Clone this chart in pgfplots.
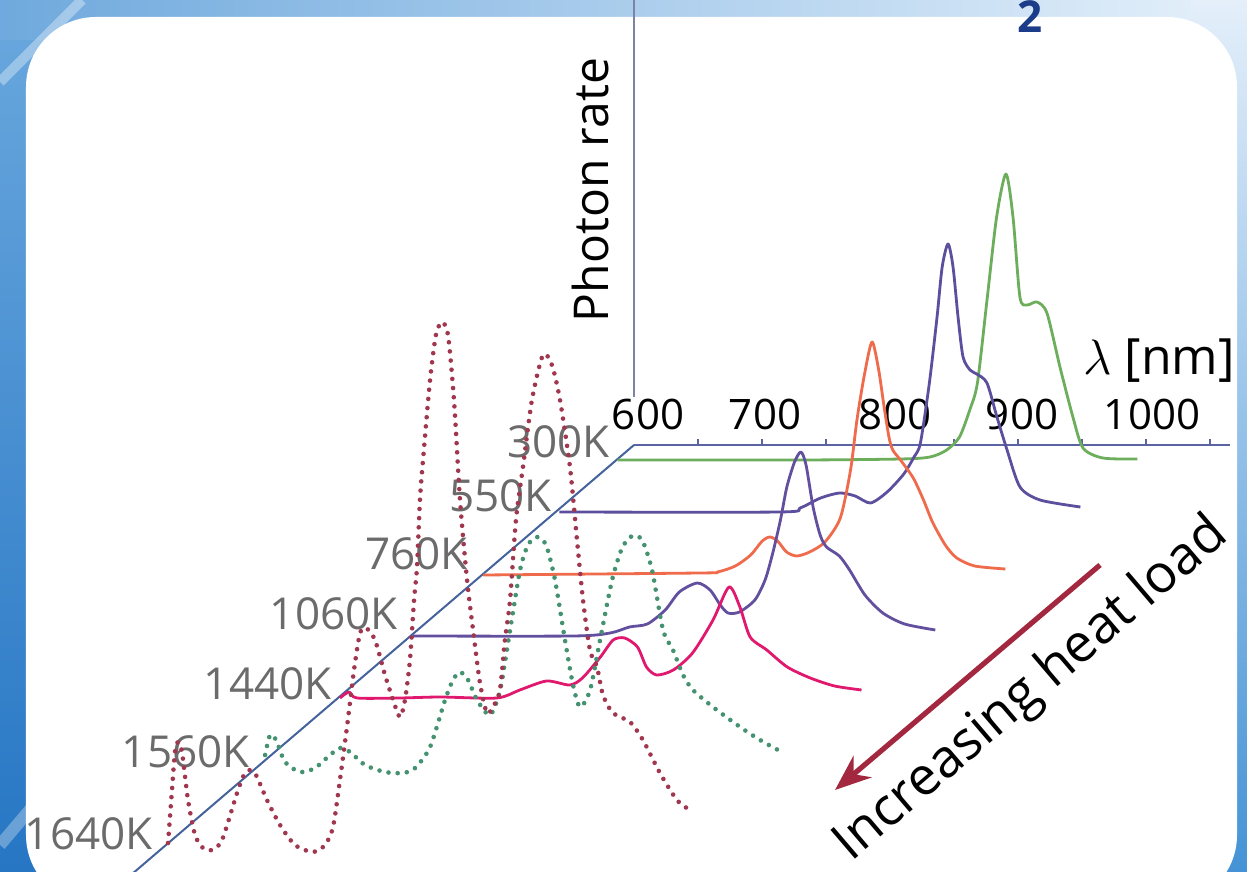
\documentclass[border=0pt]{standalone}
\usepackage{pgfplots}
\pgfplotsset{compat=1.18}
\usepackage{fontspec}
\setmainfont{Open Sans}
\usetikzlibrary{arrows.meta,backgrounds}

\definecolor{axisblue}{HTML}{5A64A2}
\definecolor{axisgray}{HTML}{7C84A6}
\definecolor{diagblue}{HTML}{44629C}
\definecolor{kgreen}{HTML}{6CAE5C}
\definecolor{kviolet}{HTML}{5B4F9E}
\definecolor{korange}{HTML}{EF6B4C}
\definecolor{kpurple}{HTML}{62509F}
\definecolor{kmagenta}{HTML}{E0186E}
\definecolor{kdotgreen}{HTML}{449270}
\definecolor{kdotred}{HTML}{A0374F}
\definecolor{labelgray}{HTML}{6B6B6B}
\definecolor{arrowred}{HTML}{A3283F}
\definecolor{titlenavy}{HTML}{1B3C88}

\newcommand\tickfont{\fontsize{21}{21}\selectfont}
\newcommand\tempfont{\fontsize{22}{22}\selectfont}

\begin{document}
\begin{tikzpicture}
% wavelength along x, sample depth (temperature order) along y, photon rate along z
\begin{axis}[
  x={(0.64pt,0pt)}, y={(-0.585pt,-0.5pt)}, z={(0pt,0.5pt)},
  hide axis, clip=false,
  xmin=600, xmax=1070, ymin=0, ymax=440, zmin=0, zmax=450,
  every axis plot/.append style={no marks, line join=round},
  solid spec/.style={line width=1.4pt, smooth, tension=0.45},
  dot spec/.style={line width=2.3pt, smooth, tension=0.45, line cap=round, dash pattern=on 0pt off 4.6pt},
]
\coordinate (O) at (axis cs:600,0,0);

% axes
\addplot3[axisgray, line width=1pt] coordinates {(600,0,48) (600,0,460)};
\addplot3[axisblue, line width=1pt] coordinates {(600,0,0) (1066,0,0)};
\addplot3[diagblue, line width=1pt] coordinates {(600,0,0) (600,445,0)};
\pgfplotsinvokeforeach{650,700,750,800,850,900,950,1000,1050}{
  \draw[axisblue, line width=1pt] (axis cs:#1,0,0) -- ++(0pt,3pt);
}

% 300 K
\addplot3[kgreen, solid spec] coordinates {
 (601,15,0) (745,15,0) (822,15,1) (845,15,3) (858,15,10) (868,15,23) (876,15,50)
 (882,15,77) (889.5,15,160) (897,15,243) (904.3,15,286) (909.8,15,243) (915.2,15,163)
 (920.7,15,155) (928.5,15,158) (936.3,15,147) (946.5,15,93) (956.6,15,43)
 (964.5,15,12) (980,15,2) (1007,15,1)};

% 550 K
\addplot3[kviolet, solid spec] coordinates {
 (603,67,0) (775,67,0) (791,67,4) (807,67,14) (822,67,19) (834,67,16) (846,67,9)
 (859,67,20) (872,67,38) (880,67,55) (885,67,69) (892,67,129) (898,67,195)
 (902,67,245) (906.6,67,268) (910.5,67,245) (914.4,67,195) (918.3,67,155)
 (923.8,67,142) (929,67,138) (937,67,129) (944.8,67,95) (952.7,67,62)
 (962.8,67,25) (978.5,67,12) (1010,67,5)};

% 760 K
\addplot3[korange, solid spec] coordinates {
 (601,130,0) (770,130,2) (784,130,3) (798,130,9) (810,130,20) (819,130,34)
 (825,130,38) (831,130,34) (838,130,23) (846,130,19) (856,130,23) (868,130,33)
 (880,130,57) (888,130,105) (893,130,155) (898.8,130,200) (904.8,130,233)
 (910,130,205) (914,130,170) (918,130,138) (921,130,125) (927,130,115)
 (937,130,97) (945,130,75) (952,130,53) (962,130,30) (971,130,17) (985,130,9)
 (1009,130,6)};

% 1060 K
\addplot3[kpurple, solid spec] coordinates {
 (602,191,0) (727,191,0) (756,191,3) (771,191,9) (785,191,12) (799,191,26)
 (810,191,44) (824,191,53) (834,191,46) (842,191,31) (848,191,23) (857,191,24)
 (869,191,36) (877,191,56) (883,191,83) (889,191,116) (894,191,149) (900,191,174)
 (905,191,184) (909,191,171) (914.5,191,129) (920,191,101) (925,191,89)
 (935,191,80) (943,191,66) (955,191,41) (969,191,23) (986,191,12) (1010,191,6)};

% 1440 K
\addplot3[kmagenta, solid spec] coordinates {
 (601.6,253,0) (608.6,253,6) (614.8,253,0) (648,253,0) (680,253,1) (724,253,0)
 (742,253,8) (763,253,17) (781,253,13) (791,253,20) (805,253,41) (815,253,58)
 (824,253,60) (834,253,51) (841,253,31) (849,253,23) (862,253,28) (877,253,45)
 (893,253,78) (905.5,253,111) (914,253,91) (922,253,61) (935,253,48)
 (951,253,31) (969,253,20) (988,253,12) (1009,253,8)};

% 1560 K
\addplot3[kdotgreen, dot spec] coordinates {
 (611.6,328,18) (615.5,328,38) (620.2,328,33) (627.2,328,11) (638.9,328,1)
 (650.6,328,5) (662.3,328,18) (670.2,328,25) (678,328,21) (689.7,328,8)
 (705.3,328,1) (719.4,328,0) (728.8,328,5) (740.5,328,26) (752.2,328,73)
 (758.4,328,93) (763.9,328,101) (770.2,328,93) (777.2,328,73) (787.3,328,58)
 (795.2,328,83) (803,328,143) (810.8,328,203) (817,328,228) (824.1,328,236)
 (831.1,328,228) (838.1,328,193) (845.9,328,133) (852.2,328,88) (857.7,328,66)
 (865.5,328,83) (873.3,328,133) (882.7,328,193) (890.5,328,225) (898.3,328,237)
 (906.1,328,233) (913.9,328,203) (922.5,328,143) (930.3,328,123) (938.1,328,98)
 (945.9,328,83) (961.5,328,66) (982.7,328,46) (998.3,328,33) (1012.3,328,23)};

% 1640 K
\addplot3[kdotred, dot spec] coordinates {
 (608,407,9) (611.1,407,62) (613.4,407,100) (615.8,407,110) (618.9,407,100)
 (623.6,407,52) (629.1,407,17) (635.3,407,4) (642.3,407,2) (650.2,407,12)
 (661.9,407,59) (667.3,407,77) (672,407,82) (676.7,407,77) (685.3,407,52)
 (695.5,407,27) (707.2,407,7) (721.2,407,0) (730.6,407,7) (736.9,407,25)
 (742.3,407,72) (747.8,407,125) (753.3,407,182) (758,407,219) (762.7,407,224)
 (769.7,407,212) (777.5,407,177) (783.8,407,152) (789.2,407,135) (793.1,407,152)
 (797,407,192) (800.2,407,252) (802.5,407,285) (804.8,407,352) (807.2,407,392)
 (812.7,407,472) (817.3,407,517) (822,407,530) (826.7,407,517) (831.4,407,452)
 (836.1,407,352) (841.6,407,272) (846.3,407,222) (851.7,407,169) (857.2,407,139)
 (862.7,407,147) (867.3,407,162) (871.2,407,212) (875.2,407,252) (879.8,407,332)
 (885.3,407,385) (892.3,407,452) (900.9,407,497) (907.9,407,487) (914.2,407,452)
 (922,407,385) (927.5,407,312) (932.2,407,252) (937.6,407,202) (943.1,407,185)
 (947.8,407,157) (955.6,407,139) (968.9,407,130) (979,407,112) (992.3,407,79)
 (1005.6,407,52) (1015.7,407,42)};
\end{axis}

% page frame, labels and annotations in a 1247 x 872 grid
\begin{scope}[shift={(O)}, shift={(-317pt,222.5pt)}, x=0.5pt, y=-0.5pt]
  \begin{scope}[on background layer]
    \fill[top color={rgb,255:red,150;green,196;blue,236}, bottom color={rgb,255:red,52;green,132;blue,206}] (0,0) rectangle (1247,872);
    \fill[top color={rgb,255:red,106;green,168;blue,222}, bottom color={rgb,255:red,38;green,118;blue,196}] (0,0) rectangle (70,872);
    \fill[left color={rgb,255:red,111;green,169;blue,221}, right color={rgb,255:red,230;green,241;blue,251}] (0,0) rectangle (1247,40);
    \fill[top color={rgb,255:red,228;green,239;blue,250}, bottom color={rgb,255:red,68;green,147;blue,214}] (1190,0) rectangle (1247,872);
    \draw[white, opacity=0.35, line width=5pt] (0,82) -- (82,0);
    \draw[white, opacity=0.3, line width=6pt] (0,845) -- (62,772);
    \fill[white, rounded corners=35pt] (26,17) rectangle (1237,905);
    \node[text=titlenavy, font=\fontsize{22}{22}\selectfont\bfseries, anchor=base, inner sep=0pt] at (1030,33) {2};

    % wavelength tick labels
    \foreach \xp/\t in {648/600, 765/700, 895/800, 1022/900, 1152/1000}
      \node[font=\tickfont, anchor=base, inner sep=0pt] at (\xp,430) {\t};

    % temperature labels
    \foreach \xp/\yp/\t in {610/458/300K, 552/512/550K, 468/570/760K, 398/630/1060K,
                           332/700/1440K, 250/768/1560K, 153/850/1640K}
      \node[font=\tempfont, text=labelgray, anchor=base east, inner sep=0pt] at (\xp,\yp) {\t};

    \node[font=\fontsize{24}{24}\selectfont, rotate=90, inner sep=0pt] at (590,190) {Photon rate};
    \node[font=\fontsize{25}{25}\selectfont, anchor=base west, inner sep=0pt] at (1083,375) {$\lambda$ [nm]};
  \end{scope}

  \draw[arrowred, line width=2.6pt, -{Stealth[length=18pt,width=14pt]}] (1100,565) -- (835,790);
  \node[font=\fontsize{26.5}{26.5}\selectfont, rotate=40.5, inner sep=0pt] at (1032,690) {Increasing heat load};

  \pgfresetboundingbox
  \useasboundingbox (0,0) rectangle (1247,872);
\end{scope}
\end{tikzpicture}
\end{document}
